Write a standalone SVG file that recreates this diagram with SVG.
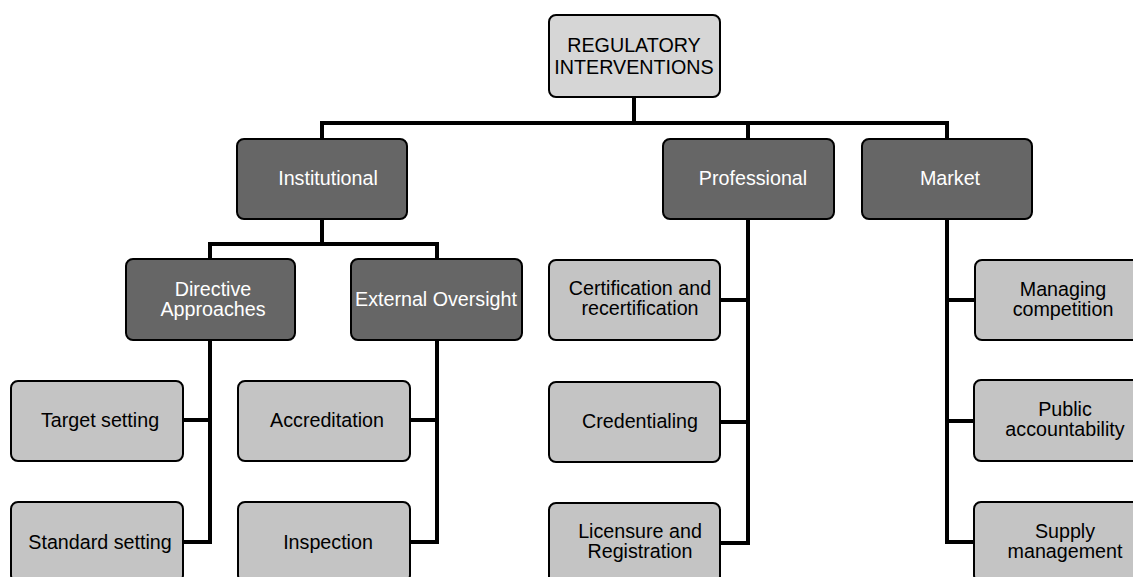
<svg xmlns="http://www.w3.org/2000/svg" width="1133" height="577" viewBox="0 0 1133 577">
<style>
.box{stroke:#000;stroke-width:2}
.dark{fill:#666666}
.light{fill:#c4c4c4}
.top{fill:#d6d6d6}
text{font-family:"Liberation Sans",Arial,sans-serif;font-size:19.7px;text-anchor:middle}
.w{fill:#fff}
.b{fill:#000}
.conn{fill:none;stroke:#000;stroke-width:4;stroke-linecap:square}
</style>
<rect width="1133" height="577" fill="#fff"/>
<g id="connectors">
<path class="conn" d="M634 97V123M322 123H947M322 123V139M748 123V139M947 123V139"/>
<path class="conn" d="M322 219V244M210 244H437M210 244V259M437 244V259"/>
<path class="conn" d="M210 340V542M183 420H210M183 542H210"/>
<path class="conn" d="M437 340V542M410 420H437M410 542H437"/>
<path class="conn" d="M748 219V543M720 300H748M720 422H748M720 543H748"/>
<path class="conn" d="M947 219V542M947 300H975M947 421H975M947 542H975"/>
</g>
<g id="n-regulatory"><rect class="box top" x="549" y="15" width="171" height="82" rx="7"/><text class="b" x="634" y="52">REGULATORY</text><text class="b" x="634" y="74">INTERVENTIONS</text></g>
<g id="n-institutional"><rect class="box dark" x="237" y="139" width="170" height="80" rx="7"/><text class="w" x="328" y="185">Institutional</text></g>
<g id="n-professional"><rect class="box dark" x="663" y="139" width="171" height="80" rx="7"/><text class="w" x="753" y="185">Professional</text></g>
<g id="n-market"><rect class="box dark" x="862" y="139" width="170" height="80" rx="7"/><text class="w" x="950" y="185">Market</text></g>
<g id="n-directive"><rect class="box dark" x="126" y="259" width="169" height="81" rx="7"/><text class="w" x="213" y="296">Directive</text><text class="w" x="213" y="316">Approaches</text></g>
<g id="n-external"><rect class="box dark" x="351" y="259" width="171" height="81" rx="7"/><text class="w" x="436" y="306">External Oversight</text></g>
<g id="n-target"><rect class="box light" x="11" y="381" width="172" height="80" rx="7"/><text class="b" x="100" y="427">Target setting</text></g>
<g id="n-standard"><rect class="box light" x="11" y="502" width="172" height="80" rx="7"/><text class="b" x="100" y="549">Standard setting</text></g>
<g id="n-accreditation"><rect class="box light" x="238" y="381" width="172" height="80" rx="7"/><text class="b" x="327" y="427">Accreditation</text></g>
<g id="n-inspection"><rect class="box light" x="238" y="502" width="172" height="80" rx="7"/><text class="b" x="328" y="549">Inspection</text></g>
<g id="n-certification"><rect class="box light" x="549" y="260" width="171" height="80" rx="7"/><text class="b" x="640" y="295">Certification and</text><text class="b" x="640" y="315">recertification</text></g>
<g id="n-credentialing"><rect class="box light" x="549" y="382" width="171" height="80" rx="7"/><text class="b" x="640" y="428">Credentialing</text></g>
<g id="n-licensure"><rect class="box light" x="549" y="503" width="171" height="80" rx="7"/><text class="b" x="640" y="538">Licensure and</text><text class="b" x="640" y="558">Registration</text></g>
<g id="n-managing"><rect class="box light" x="975" y="260" width="171" height="80" rx="7"/><text class="b" x="1063" y="296">Managing</text><text class="b" x="1063" y="316">competition</text></g>
<g id="n-public"><rect class="box light" x="974" y="380" width="171" height="81" rx="7"/><text class="b" x="1065" y="416">Public</text><text class="b" x="1065" y="436">accountability</text></g>
<g id="n-supply"><rect class="box light" x="974" y="502" width="171" height="80" rx="7"/><text class="b" x="1065" y="538">Supply</text><text class="b" x="1065" y="558">management</text></g>
</svg>
